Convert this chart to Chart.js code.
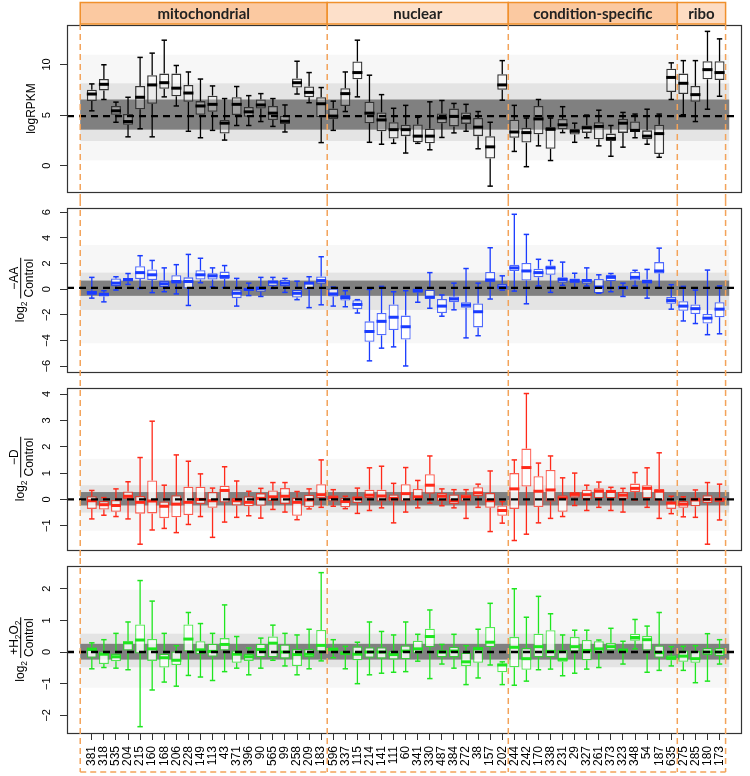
<!DOCTYPE html>
<html>
<head>
<meta charset="utf-8">
<script src="https://cdn.jsdelivr.net/npm/chart.js@4.4.0/dist/chart.umd.min.js"></script>
<style>
body { margin: 0; background: #fff; width: 750px; height: 776px; overflow: hidden; position: relative; }
.panel { position: absolute; left: 0; width: 750px; }
</style>
</head>
<body>
<div class="panel" style="top:0px;height:200px"><canvas id="p1"></canvas></div>
<div class="panel" style="top:200px;height:180px"><canvas id="p2"></canvas></div>
<div class="panel" style="top:380px;height:178px"><canvas id="p3"></canvas></div>
<div class="panel" style="top:558px;height:218px"><canvas id="p4"></canvas></div>
<script>
const genes = ['381','318','535','204','215','160','168','206','228','149','113','43','371','396','90','565','99','258','209','183',
  '596','337','115','214','141','111','60','341','330','487','384','272','38','157','202',
  '244','242','170','338','231','29','327','261','373','323','348','54','187','635',
  '275','285','180','173'];
const groups = ['mitochondrial', 'nuclear', 'condition-specific', 'ribo'];
const groupEdges = [0.04, 20.5, 35.5, 49.5, 53.5];

// [min, q1, median, q3, max] per gene
const rpkm = [
  [5.42,6.38,7.08,7.5,8.08],[6.54,7.44,8.04,8.56,9.97],[4.29,5.03,5.42,5.9,6.28],[2.85,4.04,4.36,5.1,6.76],
  [3.65,5.58,6.76,7.88,10.7],[2.85,6.12,7.98,8.94,11.12],[6.8,7.6,8.2,9.1,12.4],[5.9,6.86,7.66,9.1,9.9],
  [3.4,6.31,7.18,7.98,9.26],[2.76,5.03,5.9,6.38,8.56],[3.49,5.32,6.06,6.92,7.88],[2.53,3.17,4.2,4.52,6.63],
  [3.97,5.0,6.06,6.76,7.82],[3.97,4.84,5.32,5.8,6.92],[4.36,5.64,6.0,6.54,7.12],[3.88,4.52,5.19,5.9,6.63],
  [3.33,4.13,4.39,4.94,6.0],[7.08,7.72,8.2,8.62,10.32],[6.22,6.76,7.24,7.82,9.2],[2.28,4.78,6.12,6.76,7.72],
  [3.49,4.58,4.9,5.64,6.38],[5.35,5.9,7.12,7.66,9.26],[6.8,8.53,9.2,10.29,12.4],[2.31,4.2,5.19,6.31,8.94],
  [2.12,3.4,4.52,5.26,7.02],[2.21,2.69,3.56,4.29,5.67],[1.25,2.92,3.56,4.04,5.96],[2.21,2.31,2.92,4.07,4.78],
  [1.57,2.21,2.92,3.65,6.31],[2.79,4.2,4.71,5.16,6.44],[3.24,3.88,4.87,5.64,6.15],[3.4,4.13,4.71,5.26,6.06],
  [1.67,2.92,3.81,4.71,5.35],[-2.02,0.71,1.86,2.92,4.29],[6.47,7.5,7.98,9.04,10.38],
  [1.41,2.76,3.33,4.55,5.96],[-0.1,2.28,3.27,3.75,4.71],[1.96,3.11,4.62,5.9,6.54],[0.51,1.67,3.59,3.81,4.71],
  [3.27,3.59,4.04,4.62,5.83],[2.31,3.08,3.4,3.65,4.2],[2.76,3.24,3.75,3.97,5.0],[1.96,2.6,3.88,4.29,5.48],
  [0.93,2.44,2.69,3.17,3.97],[1.83,3.24,4.2,4.62,5.26],[2.76,3.33,3.49,4.36,5.1],[2.12,2.6,2.92,3.49,5.58],
  [0.83,1.15,3.17,4.04,5.1],[6.54,7.28,8.72,9.58,10.16],
  [5.03,7.08,8.14,9.1,10.38],[4.36,6.31,7.02,7.88,10.38],[5.58,8.53,9.49,10.32,13.27],[6.86,8.46,9.2,10.32,12.53]
];
const minusAA = [
  [-0.7,-0.45,-0.27,-0.12,0.92],[-0.99,-0.57,-0.4,-0.27,-0.12],[-0.07,0.22,0.47,0.84,0.97],[0.37,0.6,0.75,0.87,1.22],
  [0.05,0.79,1.29,1.79,2.61],[-0.27,0.72,1.12,1.54,2.24],[-0.2,0.17,0.42,0.67,1.66],[-0.37,0.42,0.6,1.09,1.91],
  [-1.27,0.05,0.6,0.92,2.71],[0.5,0.75,1.12,1.47,2.41],[0.17,0.75,1.04,1.24,1.66],[0.12,0.79,0.99,1.37,1.84],
  [-1.32,-0.7,-0.32,-0.02,0.84],[-0.5,-0.15,-0.02,0.12,0.47],[-0.57,-0.2,0.05,0.22,0.92],[0.05,0.25,0.55,0.67,0.92],
  [-0.25,0.22,0.47,0.72,0.84],[-0.82,-0.65,-0.32,0.0,0.62],[-1.44,-0.02,0.47,0.55,0.97],[-1.22,0.42,0.67,0.99,2.53],
  [-1.32,-0.57,-0.37,0.05,0.17],[-1.37,-0.89,-0.65,-0.45,-0.12],[-1.86,-1.56,-1.19,-0.87,-0.82],[-5.59,-4.1,-3.3,-2.51,-0.02],
  [-4.6,-3.6,-2.51,-1.86,0.22],[-4.5,-3.18,-2.19,-1.19,-0.2],[-5.99,-3.92,-2.93,-2.06,-0.12],[-1.02,-0.27,-0.12,0.05,0.12],
  [-1.49,-0.77,-0.62,0.0,1.29],[-2.11,-1.86,-1.32,-0.77,-0.45],[-1.61,-1.02,-0.77,-0.57,0.47],[-3.8,-1.44,-1.24,-1.02,1.61],
  [-3.63,-2.98,-1.76,-1.12,0.47],[-0.77,0.55,0.72,1.34,3.23],[-0.07,-0.02,0.17,0.42,1.04],
  [-0.15,1.42,1.66,1.91,5.84],[-1.14,0.67,1.42,2.04,4.27],[0.25,0.92,1.29,1.59,2.33],[-0.25,1.12,1.66,1.84,2.24],
  [0.3,0.5,0.75,0.92,2.11],[0.1,0.47,0.67,0.84,1.24],[0.25,0.42,0.67,0.79,1.66],[-0.32,-0.32,0.17,0.79,1.12],
  [-0.2,0.62,0.92,1.12,1.22],[-0.57,-0.02,0.12,0.25,0.47],[0.25,0.67,0.92,1.34,1.47],[-0.7,0.42,0.6,0.75,1.54],
  [0.12,1.22,1.42,2.11,3.2],[-1.56,-1.14,-0.89,-0.62,0.35],
  [-2.48,-1.69,-1.32,-0.94,0.22],[-2.68,-1.94,-1.52,-1.19,-0.07],[-3.55,-2.68,-2.26,-1.94,1.49],[-3.48,-2.19,-1.56,-1.02,0.25]
];
const minusD = [
  [-0.74,-0.36,-0.05,0.12,0.34],[-0.6,-0.38,-0.2,-0.06,0.07],[-0.65,-0.47,-0.23,0.0,0.4],[-0.74,0.0,0.12,0.3,0.67],
  [-1.7,-0.54,-0.11,0.13,1.59],[-1.16,-0.53,-0.06,0.72,2.97],[-1.1,-0.71,-0.26,-0.08,0.54],[-1.26,-0.68,-0.18,0.16,1.69],
  [-0.95,-0.59,-0.11,0.48,1.45],[-0.65,-0.18,0.0,0.48,0.97],[-1.44,-0.32,-0.05,0.28,0.43],[-0.86,-0.12,0.34,0.52,1.24],
  [-0.68,-0.23,-0.05,0.06,0.7],[-0.62,-0.26,-0.11,0.12,0.31],[-0.71,-0.24,0.04,0.24,0.42],[-0.38,-0.06,0.1,0.34,0.64],
  [-0.48,-0.17,0.12,0.43,0.64],[-0.77,-0.62,-0.11,0.07,0.3],[-0.36,-0.29,-0.02,0.18,0.4],[-0.3,0.04,0.18,0.58,1.5],
  [-0.26,-0.08,0.07,0.16,0.37],[-0.35,-0.3,-0.08,0.06,0.12],[-0.53,-0.14,0.04,0.12,0.43],[-0.42,0.04,0.16,0.37,1.2],
  [-0.32,-0.08,0.13,0.37,1.26],[-0.89,-0.08,0.04,0.19,0.61],[-0.48,-0.08,0.22,0.58,1.21],[-0.32,-0.02,0.1,0.4,0.72],
  [-0.14,0.22,0.54,0.96,1.65],[-0.24,-0.06,0.12,0.24,0.4],[-0.32,-0.18,-0.05,0.19,0.37],[-0.72,-0.08,0.1,0.19,0.37],
  [-0.3,0.12,0.25,0.46,0.58],[-1.22,-0.32,-0.05,0.25,1.08],[-0.9,-0.62,-0.42,-0.23,-0.08],
  [-1.56,-0.36,0.4,1.0,1.5],[-1.32,0.49,1.21,1.93,4.02],[-0.89,-0.29,0.31,0.88,1.38],[-0.72,-0.08,0.36,1.12,1.65],
  [-0.65,-0.47,0.06,0.16,0.82],[-0.23,0.07,0.19,0.28,1.0],[-0.42,0.01,0.18,0.37,0.54],[-0.3,0.04,0.31,0.42,0.66],
  [-0.42,0.04,0.3,0.37,0.46],[-0.48,0.0,0.16,0.28,0.42],[-0.02,0.28,0.42,0.6,1.02],[-0.3,0.04,0.42,0.54,1.2],
  [-0.72,-0.05,0.31,0.4,1.77],[-0.54,-0.36,-0.14,-0.08,0.12],
  [-0.66,-0.32,-0.18,-0.06,0.1],[-0.68,-0.26,-0.02,0.07,0.36],[-1.7,-0.14,0.0,0.16,0.64],[-0.78,-0.11,0.0,0.07,0.58]
];
const plusH2O2 = [
  [-0.53,-0.18,0.08,0.15,0.29],[-0.49,-0.38,-0.07,0.02,0.39],[-0.51,-0.29,-0.15,-0.05,0.59],[-0.56,0.05,0.29,0.34,0.95],
  [-2.36,-0.05,0.38,0.87,2.26],[-1.2,-0.28,0.1,0.41,1.61],[-0.95,-0.49,-0.18,-0.05,0.59],[-1.08,-0.41,-0.26,0.02,0.2],
  [-0.74,0.0,0.41,0.87,1.25],[-0.79,-0.07,0.07,0.34,0.9],[-0.9,-0.15,0.02,0.26,0.59],[-0.62,0.05,0.24,0.44,1.49],
  [-0.51,-0.34,-0.07,0.05,0.49],[-0.72,-0.28,-0.15,-0.05,0.13],[-0.51,-0.17,0.08,0.26,0.44],[-0.26,-0.17,0.28,0.49,0.85],
  [-0.44,-0.21,0.0,0.24,0.59],[-0.72,-0.44,-0.08,0.1,0.54],[-0.53,-0.17,-0.07,0.1,0.72],[-0.28,0.0,0.21,0.7,2.51],
  [-0.18,0.02,0.08,0.15,0.39],[-0.53,-0.1,-0.03,0.02,0.18],[-1.0,-0.26,-0.07,0.18,0.31],[-0.72,-0.18,0.0,0.15,0.95],
  [-0.67,-0.21,0.0,0.15,0.65],[-0.64,-0.24,-0.08,0.03,0.54],[-0.62,-0.23,0.03,0.21,0.95],[-0.29,-0.05,0.1,0.36,0.56],
  [-0.84,0.15,0.49,0.74,1.33],[-0.38,-0.17,0.0,0.07,0.24],[-0.51,-0.17,0.03,0.17,0.56],[-1.03,-0.44,-0.31,-0.02,0.2],
  [-0.82,-0.34,0.1,0.17,0.72],[-0.41,0.15,0.31,0.79,1.54],[-1.03,-0.64,-0.41,-0.36,-0.31],
  [-1.05,-0.48,0.15,0.48,2.0],[-0.92,-0.56,-0.21,0.13,1.1],[-0.56,-0.17,0.17,0.58,1.76],[-0.54,-0.17,0.02,0.69,1.21],
  [-0.75,-0.31,-0.23,0.07,0.54],[-0.67,0.0,0.17,0.48,0.69],[-0.54,-0.26,0.05,0.38,0.69],[-0.49,-0.03,0.1,0.34,0.38],
  [0.0,0.05,0.17,0.29,0.75],[-0.38,-0.02,0.05,0.12,0.34],[0.1,0.36,0.46,0.58,1.03],[-0.64,0.05,0.39,0.51,0.82],
  [-0.58,-0.18,-0.02,0.21,1.25],[-0.44,-0.26,-0.18,-0.1,0.17],
  [-0.58,-0.31,-0.13,0.05,0.18],[-0.97,-0.34,-0.21,0.03,0.2],[-0.92,-0.1,0.0,0.13,0.58],[-0.38,-0.13,0.0,0.13,0.39]
];

// reference bands: [outer lo, mid lo, inner lo, centre, inner hi, mid hi, outer hi]
const rpkmBands = [0.52, 2.44, 3.56, 4.9, 6.54, 8.14, 10.96];
const aaBands = [-4.22, -1.62, -0.52, 0.1, 0.67, 1.29, 3.45];
const dBands = [-1.19, -0.5, -0.23, 0, 0.28, 0.54, 1.54];
const h2o2Bands = [-1.13, -0.48, -0.24, 0, 0.26, 0.58, 1.97];

const rpkmTicks = [0, 5, 10];
const aaTicks = [-6, -4, -2, 0, 2, 4, 6];
const dTicks = [-1, 0, 1, 2, 3, 4];
const h2o2Ticks = [-2, -1, 0, 1, 2];

const X_MIN = -1.056, X_MAX = 54.86, BAND_FROM = 0.04, BAND_TO = 53.8;
const FONT = '"Liberation Sans", Arial, sans-serif';

const panels = [
  { id: 'p1', stats: rpkm, bands: rpkmBands, ticks: rpkmTicks, yMin: -2.6, yMax: 13.9,
    color: '#000', boxLine: '#333', fill: 'rgba(255,255,255,0.25)', pad: [25, 3], title: 'logRPKM' },
  { id: 'p2', stats: minusAA, bands: aaBands, ticks: aaTicks, yMin: -6.46, yMax: 6.33,
    color: '#1a3cff', boxLine: 'rgba(26,60,255,0.75)', fill: 'rgba(255,255,255,0.85)', pad: [4, 4],
    num: [{ t: '\u2212AA' }] },
  { id: 'p3', stats: minusD, bands: dBands, ticks: dTicks, yMin: -1.92, yMax: 4.23,
    color: '#ff2a1a', boxLine: 'rgba(255,42,26,0.75)', fill: 'rgba(255,255,255,0.85)', pad: [3, 4],
    num: [{ t: '\u2212D' }] },
  { id: 'p4', stats: plusH2O2, bands: h2o2Bands, ticks: h2o2Ticks, yMin: -2.56, yMax: 2.72,
    color: '#1fe61f', boxLine: 'rgba(31,230,31,0.75)', fill: 'rgba(255,255,255,0.85)', pad: [4, 0],
    num: [{ t: '+H' }, { t: '2', sub: true }, { t: 'O' }, { t: '2', sub: true }], last: true }
];

function drawTitle(ctx, cx, cy, p) {
  ctx.save();
  ctx.translate(cx, cy);
  ctx.rotate(-Math.PI / 2);
  ctx.fillStyle = '#000';
  const F = '12px ' + FONT, S = '8.5px ' + FONT;
  if (p.title) {
    ctx.font = F; ctx.textAlign = 'center'; ctx.textBaseline = 'middle';
    ctx.fillText(p.title, 0, 0);
    ctx.restore();
    return;
  }
  ctx.textAlign = 'left'; ctx.textBaseline = 'alphabetic';
  const width = parts => parts.reduce((w, q) => { ctx.font = q.sub ? S : F; return w + ctx.measureText(q.t).width; }, 0);
  const run = (parts, u, v) => parts.forEach(q => {
    ctx.font = q.sub ? S : F;
    ctx.fillText(q.t, u, v + (q.sub ? 3 : 0));
    u += ctx.measureText(q.t).width;
  });
  const logParts = [{ t: 'log' }, { t: '2', sub: true }];
  const den = [{ t: 'Control' }];
  const wl = width(logParts), wn = width(p.num), wd = width(den);
  const fw = Math.max(wn, wd) + 2;
  const u0 = -(wl + 3 + fw) / 2;
  run(logParts, u0, 3);
  const u1 = u0 + wl + 3;
  ctx.fillRect(u1, -0.5, fw, 1);
  run(p.num, u1 + (fw - wn) / 2, -3);
  run(den, u1 + (fw - wd) / 2, 12);
  ctx.restore();
}

function decor(p) {
  return {
    id: 'decor' + p.id,
    beforeDatasetsDraw(chart) {
      const { ctx, scales: { x, y } } = chart;
      const b = p.bands;
      const xl = x.getPixelForValue(BAND_FROM), xr = x.getPixelForValue(BAND_TO);
      const band = (lo, hi, c) => {
        const t = y.getPixelForValue(hi), bt = y.getPixelForValue(lo);
        ctx.fillStyle = c;
        ctx.fillRect(xl, t, xr - xl, bt - t);
      };
      ctx.save();
      band(b[0], b[6], '#f7f7f7');
      band(b[1], b[5], '#e4e4e4');
      band(b[2], b[4], '#808080');
      ctx.restore();
    },
    afterDatasetsDraw(chart) {
      const { ctx, chartArea: a, scales: { y } } = chart;
      const yc = y.getPixelForValue(p.bands[3]);
      ctx.save();
      ctx.setLineDash([7, 5]);
      ctx.lineWidth = 2.4;
      ctx.strokeStyle = '#000';
      ctx.beginPath();
      ctx.moveTo(a.left, yc);
      ctx.lineTo(a.right - 3, yc);
      ctx.stroke();
      ctx.restore();
    },
    afterDraw(chart) {
      const { ctx, chartArea: a, scales: { x, y } } = chart;
      const H = chart.height;
      ctx.save();
      // panel frame
      ctx.strokeStyle = '#333';
      ctx.lineWidth = 1.2;
      ctx.strokeRect(Math.round(a.left) + 0.5, Math.round(a.top) + 0.5, Math.round(a.width) - 1, Math.round(a.height));
      // y tick labels, rotated like R
      ctx.fillStyle = '#000';
      ctx.font = '11px ' + FONT;
      ctx.textAlign = 'center';
      ctx.textBaseline = 'middle';
      y.ticks.forEach(t => {
        ctx.save();
        ctx.translate(46.5, y.getPixelForValue(t.value));
        ctx.rotate(-Math.PI / 2);
        ctx.fillText(t.value < 0 ? '\u2212' + Math.abs(t.value) : String(t.value), 0, 0);
        ctx.restore();
      });
      drawTitle(ctx, p.title ? 31.5 : 20.7, (a.top + a.bottom) / 2, p);
      // orange group frames
      const top = p.id === 'p1' ? 24 : 0;
      const bottom = p.last ? H - 4 : H;
      ctx.strokeStyle = '#f3a35a';
      ctx.lineWidth = 1.5;
      ctx.setLineDash([6, 4]);
      groupEdges.forEach(e => {
        const px = x.getPixelForValue(e);
        ctx.beginPath(); ctx.moveTo(px, top); ctx.lineTo(px, bottom); ctx.stroke();
      });
      if (p.last) {
        ctx.beginPath();
        ctx.moveTo(x.getPixelForValue(groupEdges[0]), bottom);
        ctx.lineTo(x.getPixelForValue(groupEdges[groupEdges.length - 1]), bottom);
        ctx.stroke();
      }
      ctx.setLineDash([]);
      if (p.id === 'p1') {
        const fills = ['#fbc9a1', '#fde0ca', '#fbc9a1', '#fddcc3'];
        ctx.font = 'bold 15px Lato, "Open Sans", sans-serif';
        ctx.textBaseline = 'middle';
        groups.forEach((g, i) => {
          const x0 = x.getPixelForValue(groupEdges[i]), x1 = x.getPixelForValue(groupEdges[i + 1]);
          ctx.fillStyle = fills[i];
          ctx.fillRect(x0, 2.5, x1 - x0, 21.5);
          ctx.strokeStyle = '#f0902c';
          ctx.lineWidth = 1.5;
          ctx.strokeRect(x0, 2.5, x1 - x0, 21.5);
          ctx.fillStyle = '#222';
          ctx.fillText(g, (x0 + x1) / 2, 14);
        });
      }
      ctx.restore();
    }
  };
}

function boxDatasets(p) {
  const at = k => p.stats.map((s, i) => ({ x: i + 1, y: s[k] }));
  const span = (lo, hi) => p.stats.map((s, i) => ({ x: i + 1, y: [s[lo], s[hi]] }));
  const marks = (k, r, w) => ({
    type: 'line', data: at(k), showLine: false, pointStyle: 'line',
    pointRadius: r, pointBorderWidth: w, pointBorderColor: p.color, borderColor: p.color
  });
  const whisker = (lo, hi) => ({
    type: 'bar', data: span(lo, hi), grouped: false, barThickness: 1.3,
    backgroundColor: p.color, borderWidth: 0
  });
  return [
    marks(2, 5, 3),
    marks(0, 2.7, 1.5),
    marks(4, 2.7, 1.5),
    { type: 'bar', data: span(1, 3), grouped: false, barThickness: 10, backgroundColor: p.fill,
      borderColor: p.boxLine, borderWidth: 1.3, borderSkipped: false },
    whisker(0, 1),
    whisker(3, 4)
  ];
}

Chart.defaults.font.family = FONT;

panels.forEach(p => {
  new Chart(document.getElementById(p.id), {
    type: 'bar',
    data: { datasets: boxDatasets(p) },
    options: {
      responsive: true,
      maintainAspectRatio: false,
      animation: false,
      events: [],
      layout: { padding: { top: p.pad[0], bottom: p.pad[1], left: 0, right: 3 } },
      plugins: { legend: { display: false }, tooltip: { enabled: false } },
      elements: { bar: { inflateAmount: 0 } },
      scales: {
        x: {
          type: 'linear', min: X_MIN, max: X_MAX, display: !!p.last, offset: false,
          afterBuildTicks: s => { s.ticks = genes.map((g, i) => ({ value: i + 1 })); },
          afterFit: s => { s.height = p.last ? 43 : 0; s.paddingLeft = 0; s.paddingRight = 0; },
          grid: { drawOnChartArea: false, offset: false, tickLength: 7, color: '#333' },
          border: { display: false },
          ticks: { autoSkip: false, minRotation: 90, maxRotation: 90, padding: 6, color: '#000',
                   font: { size: 12 }, callback: v => genes[v - 1] }
        },
        y: {
          type: 'linear', min: p.yMin, max: p.yMax,
          afterBuildTicks: s => { s.ticks = p.ticks.map(v => ({ value: v })); },
          afterFit: s => { s.width = 67; },
          grid: { drawOnChartArea: false, tickLength: 7, color: '#333' },
          border: { display: false },
          ticks: { display: false }
        }
      }
    },
    plugins: [decor(p)]
  });
});
</script>
</body>
</html>
